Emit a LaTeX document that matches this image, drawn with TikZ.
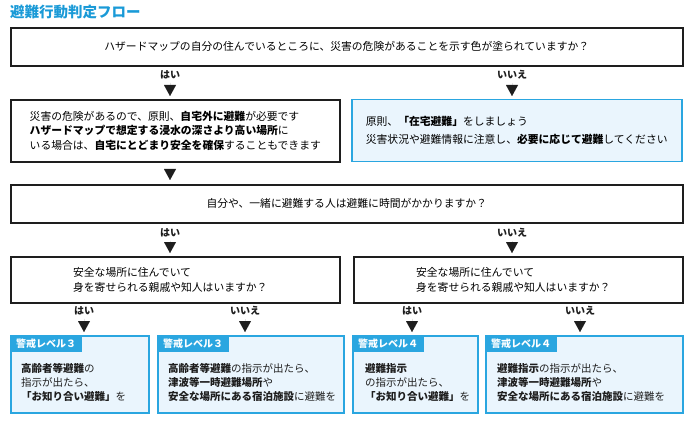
\documentclass[tikz,border=0pt]{standalone}
\usepackage{fontspec}
\setmainfont{Noto Sans CJK JP}
\usetikzlibrary{arrows.meta}
\definecolor{skyb}{HTML}{2AA6E0}
\definecolor{lightb}{HTML}{EAF5FD}
\definecolor{titleb}{HTML}{1A9AD7}
\definecolor{ink}{HTML}{1E1E1E}
\newcommand\fsmain{\fontsize{10.8}{14.5}\selectfont}
\newcommand\fswide{\fontsize{10.8}{18}\selectfont}
\newcommand\fsbot{\fontsize{10.5}{13.6}\selectfont}
\begin{document}
\begin{tikzpicture}[x=1pt,y=-1pt,
  qbox/.style={draw=ink, line width=1.6pt, fill=white, inner sep=0pt, anchor=north west, font=\fsmain, align=left},
  abox/.style={draw=skyb, line width=1.5pt, fill=lightb, inner sep=0pt, anchor=north west, font=\fsmain, align=left},
  tabbox/.style={fill=skyb, inner sep=0pt, anchor=north west, minimum width=72pt, minimum height=17pt, text=white, font=\fontsize{10}{12}\selectfont\bfseries},
  bodytext/.style={anchor=west, inner sep=0pt, align=left, font=\fsbot, text=ink},
  ans/.style={font=\fontsize{10}{12}\selectfont\bfseries, text=ink, inner sep=1pt},
  tri/.style={draw=ink, line width=0.01pt, -{Triangle[width=12pt,length=11pt]}, shorten >=3pt, shorten <=2.5pt}
]
\useasboundingbox (0,0) rectangle (690,422);

\node[anchor=west, inner sep=0pt, text=titleb, font=\fontsize{14.5}{16}\selectfont\bfseries] (ttl) at (10,12) {避難行動判定フロー};

% first question
\node[qbox, minimum width=672pt, minimum height=38pt] (q1) at (10,27)
  {ハザードマップの自分の住んでいるところに、災害の危険があることを示す色が塗られていますか？};
\node[ans] (l1) at (170,75) {はい};
\node[ans] (l2) at (512,75) {いいえ};

\node[qbox, minimum width=329pt, minimum height=62pt] (a1) at (10,99)
  {災害の危険があるので、原則、\textbf{自宅外に避難}が必要です\\
   \textbf{ハザードマップで想定する浸水の深さより高い場所}に\\
   いる場合は、\textbf{自宅にとどまり安全を確保}することもできます};
\node[abox, minimum width=330pt, minimum height=62pt, font=\fswide] (a2) at (351,99)
  {原則、\textbf{「在宅避難」}をしましょう\\
   災害状況や避難情報に注意し、\textbf{必要に応じて避難}してください};

\draw[tri] (l1.south) -- (l1.south |- a1.north);
\draw[tri] (l2.south) -- (l2.south |- a2.north);

% second question
\node[qbox, minimum width=672pt, minimum height=38pt] (q2) at (10,184)
  {自分や、一緒に避難する人は避難に時間がかかりますか？};
\draw[tri, shorten >=4pt, shorten <=8pt] (l1 |- a1.south) -- (l1 |- q2.north);

\node[ans] (l3) at (170,233) {はい};
\node[ans] (l4) at (512,233) {いいえ};

\node[qbox, minimum width=329pt, minimum height=46pt] (q3) at (10,256)
  {\hspace*{-10pt}安全な場所に住んでいて\\\hspace*{-10pt}身を寄せられる親戚や知人はいますか？};
\node[qbox, minimum width=329pt, minimum height=46pt] (q4) at (353,256)
  {\hspace*{-10pt}安全な場所に住んでいて\\\hspace*{-10pt}身を寄せられる親戚や知人はいますか？};
\draw[tri] (l3.south) -- (l3.south |- q3.north);
\draw[tri] (l4.south) -- (l4.south |- q4.north);

\node[ans] (l5) at (84,311) {はい};
\node[ans] (l6) at (245,311) {いいえ};
\node[ans] (l7) at (412,311) {はい};
\node[ans] (l8) at (580,311) {いいえ};

% results
\node[abox, minimum width=138pt, minimum height=77pt] (r1) at (10,335) {};
\node[abox, minimum width=186pt, minimum height=77pt] (r2) at (157,335) {};
\node[abox, minimum width=125pt, minimum height=77pt] (r3) at (352,335) {};
\node[abox, minimum width=197pt, minimum height=77pt] (r4) at (485,335) {};

\node[tabbox] (t1) at (r1.north west) {警戒レベル３};
\node[tabbox] (t2) at (r2.north west) {警戒レベル３};
\node[tabbox] (t3) at (r3.north west) {警戒レベル４};
\node[tabbox] (t4) at (r4.north west) {警戒レベル４};

\node[bodytext] (x1) at (21,382.5)
  {\textbf{高齢者等避難}の\\指示が出たら、\\\textbf{「お知り合い避難」}を};
\node[bodytext] (x2) at (168,382.5)
  {\textbf{高齢者等避難}の指示が出たら、\\\textbf{津波等一時避難場所}や\\\textbf{安全な場所にある宿泊施設}に避難を};
\node[bodytext] (x3) at (365,382.5)
  {\textbf{避難指示}\\の指示が出たら、\\\textbf{「お知り合い避難」}を};
\node[bodytext] (x4) at (497,382.5)
  {\textbf{避難指示}の指示が出たら、\\\textbf{津波等一時避難場所}や\\\textbf{安全な場所にある宿泊施設}に避難を};

\draw[tri] (l5.south) -- (l5.south |- r1.north);
\draw[tri] (l6.south) -- (l6.south |- r2.north);
\draw[tri] (l7.south) -- (l7.south |- r3.north);
\draw[tri] (l8.south) -- (l8.south |- r4.north);
\end{tikzpicture}
\end{document}
